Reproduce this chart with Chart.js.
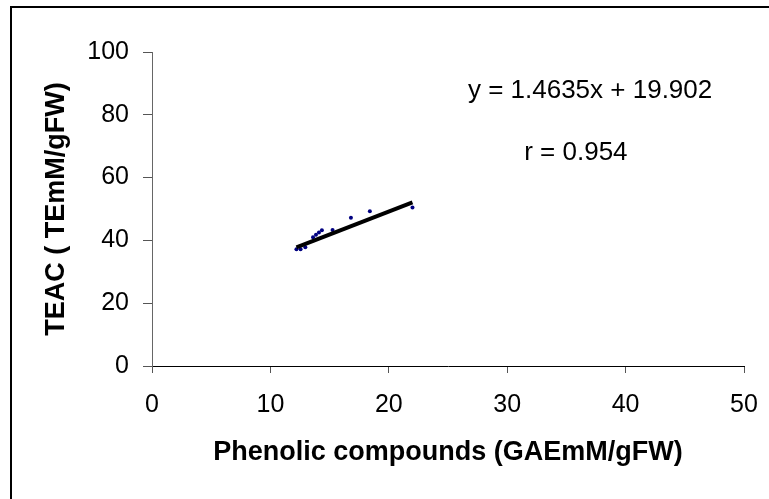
<!DOCTYPE html>
<html>
<head>
<meta charset="utf-8">
<script src="https://cdn.jsdelivr.net/npm/chart.js@4"></script>
<style>
  html,body{margin:0;padding:0;background:#fff;}
  #wrap{width:769px;height:499px;position:relative;}
</style>
</head>
<body>
<div id="wrap"><canvas id="chart"></canvas></div>
<script>
// values
let phenolic = [12.2, 12.55, 12.95, 13.6, 13.85, 14.1, 14.35, 15.25, 16.8, 18.4, 22.0];
let teac     = [37.2, 37.2, 37.8, 41.0, 41.8, 42.5, 43.2, 43.3, 47.2, 49.3, 50.5];
let trendX = [12.2, 22.0];
let trendY = [37.8, 52.1];
let xTicks = [0, 10, 20, 30, 40, 50];
let yTicks = [0, 20, 40, 60, 80, 100];
let equation = 'y = 1.4635x + 19.902';
let rText = 'r = 0.954';

let FONT = "'Liberation Sans', Arial, sans-serif";

let frame = {
    id:'frame',
    beforeDraw(chart){
        let c = chart.ctx;
        c.save();
        c.fillStyle = '#fff';
        c.fillRect(0,0,chart.width,chart.height);
        c.strokeStyle = '#000';
        c.lineWidth = 2;
        c.beginPath();
        c.moveTo(11, chart.height);
        c.lineTo(11, 7);
        c.lineTo(chart.width, 7);
        c.stroke();
        c.restore();
    },
    afterDraw(chart){
        let c = chart.ctx;
        let xs = chart.scales.x, ys = chart.scales.y;
        c.save();
        c.fillStyle = '#000';
        c.font = '26px ' + FONT;
        c.textAlign = 'center';
        c.textBaseline = 'alphabetic';
        c.fillText(equation, xs.getPixelForValue(37.0), ys.getPixelForValue(85.2));
        c.fillText(rText, xs.getPixelForValue(35.8), ys.getPixelForValue(65.6));
        c.restore();
    }
};

let ctx = document.getElementById("chart").getContext("2d");
let chart = new Chart(ctx,{
    type:'scatter',
    data:{
        datasets:[{
            label:'trend',
            data: trendX.map((x,i)=>({x:x, y:trendY[i]})),
            showLine:true,
            borderColor:'#000',
            borderWidth:4,
            pointRadius:0,
        },{
            label:'TEAC',
            data: phenolic.map((x,i)=>({x:x, y:teac[i]})),
            backgroundColor:'#000080',
            borderColor:'#000080',
            pointRadius:2,
            borderWidth:0,
        }]
    },
    options:{
        animation:false,
        responsive:true,
        maintainAspectRatio:false,
        layout:{ padding:{left:0, top:52, right:25, bottom:0} },
        plugins:{
            legend:{display:false},
            tooltip:{enabled:false},
        },
        scales:{
            x:{
                type:'linear',
                min:0,
                max:50,
                afterBuildTicks:(s)=>{ s.ticks = xTicks.map(v=>({value:v})); },
                afterFit:(s)=>{ s.height = 133; s.paddingRight = 0; },
                border:{color:'#000', width:1},
                grid:{drawOnChartArea:false, tickLength:7, tickColor:'#555'},
                ticks:{color:'#000', padding:17, maxRotation:0, font:{family:FONT, size:25}},
                title:{
                    display:true,
                    text:'Phenolic compounds (GAEmM/gFW)',
                    color:'#000',
                    padding:{top:0, bottom:30},
                    font:{family:FONT, size:27, weight:'bold'}
                }
            },
            y:{
                type:'linear',
                min:0,
                max:100,
                afterBuildTicks:(s)=>{ s.ticks = yTicks.map(v=>({value:v})); },
                afterFit:(s)=>{ s.width = 152; },
                border:{color:'#666', width:1},
                grid:{drawOnChartArea:false, tickLength:9, tickColor:'#555'},
                ticks:{color:'#000', padding:14, font:{family:FONT, size:25}},
                title:{
                    display:true,
                    text:'TEAC ( TEmM/gFW)',
                    color:'#000',
                    padding:{top:40, bottom:0},
                    font:{family:FONT, size:27, weight:'bold'}
                }
            }
        }
    },
    plugins:[frame]
});
</script>
</body>
</html>
